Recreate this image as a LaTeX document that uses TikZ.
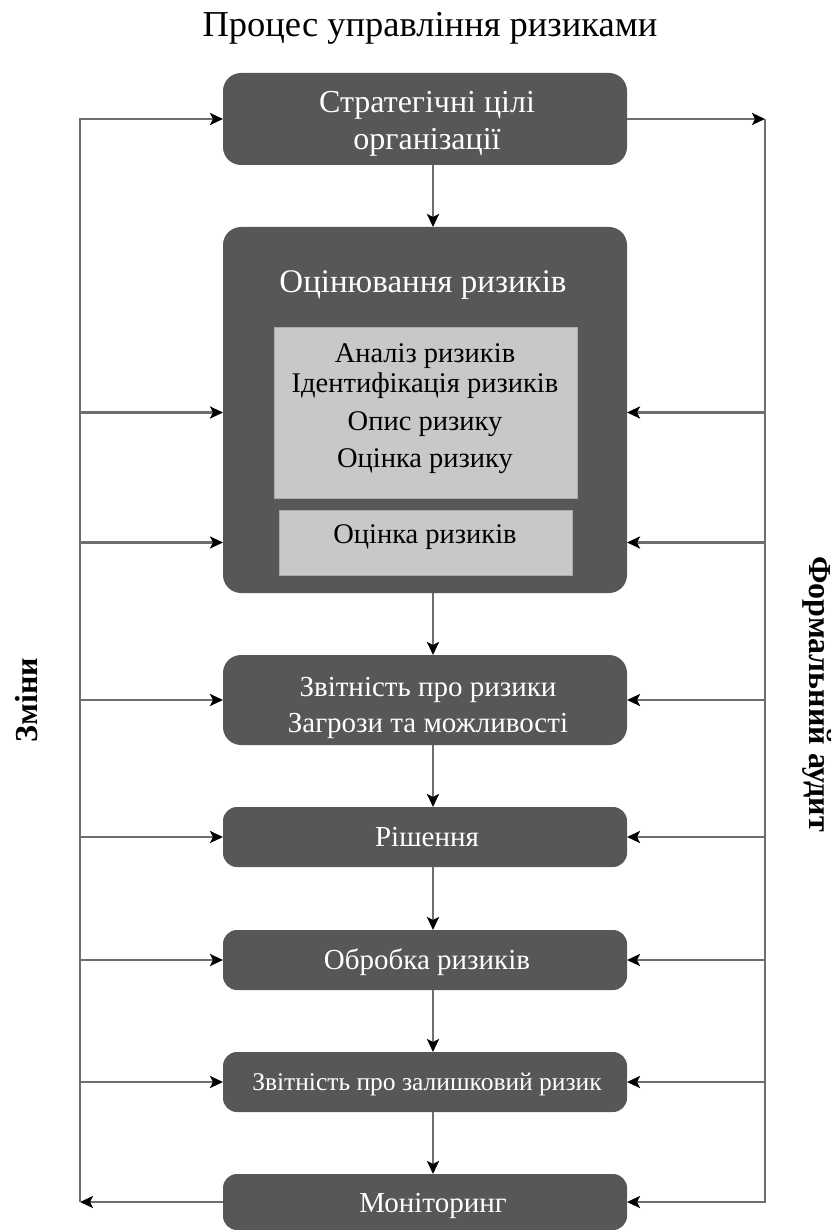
\documentclass[tikz,border=0pt]{standalone}
\usepackage{fontspec}
\setmainfont{Liberation Serif}
\usetikzlibrary{arrows.meta}
\definecolor{boxdark}{HTML}{575757}
\definecolor{boxlight}{HTML}{C8C8C8}
\definecolor{linegray}{HTML}{6E6E6E}

\begin{document}
\begin{tikzpicture}[x=1pt,y=-1pt,
  darkbox/.style={fill=boxdark, rounded corners=18pt, minimum width=404pt, inner sep=0pt, outer sep=0pt},
  smallbox/.style={darkbox, rounded corners=14pt, minimum height=60pt},
  lightbox/.style={fill=boxlight, draw=boxlight!85!black, line width=0.6pt, inner sep=0pt, outer sep=0pt},
  link/.style={draw=linegray, line width=2.8pt},
  arr/.style={link, -{Stealth[length=13pt,width=12pt,inset=3pt,black]}},
  wtxt/.style={text=white, anchor=base, inner sep=0pt, font=\fontsize{29}{33}\selectfont},
  btxt/.style={text=black, anchor=base, inner sep=0pt, font=\fontsize{28.5}{33}\selectfont},
  side/.style={anchor=base, inner sep=0pt, font=\fontsize{32}{37}\selectfont\bfseries}]

\useasboundingbox (0,0) rectangle (839,1230);

% title
\node[anchor=base, inner sep=0pt, font=\fontsize{36.5}{40}\selectfont] (title) at (430,37) {Процес управління ризиками};

% main boxes
\node[darkbox, minimum height=92pt]  (b1) at (425,119) {};
\node[darkbox, minimum height=366pt] (b2) at (425,410) {};
\node[darkbox, minimum height=90pt]  (b3) at (425,700) {};
\node[smallbox] (b4) at (425,837) {};
\node[smallbox] (b5) at (425,960) {};
\node[smallbox] (b6) at (425,1082) {};
\node[smallbox, minimum height=56pt] (b7) at (425,1202) {};

% inner panels of the assessment box
\node[lightbox, minimum width=303pt, minimum height=171pt] (ia) at (425.5,412.5) {};
\node[lightbox, minimum width=293pt, minimum height=65pt]  (ib) at (425.5,542.5) {};

% box texts
\node[wtxt, font=\fontsize{32}{35}\selectfont] (t1a) at (427,113) {Стратегічні цілі};
\node[wtxt, font=\fontsize{32}{35}\selectfont] (t1b) at (427,150) {організації};
\node[wtxt, font=\fontsize{33}{36}\selectfont] (t2) at (423,292) {Оцінювання ризиків};
\node[btxt] (ta1) at (425,362) {Аналіз ризиків};
\node[btxt] (ta2) at (425,392) {Ідентифікація ризиків};
\node[btxt] (ta3) at (425,430) {Опис ризику};
\node[btxt] (ta4) at (425,467) {Оцінка ризику};
\node[btxt] (tb) at (425,543) {Оцінка ризиків};
\node[wtxt] (t3a) at (428,696) {Звітність про ризики};
\node[wtxt] (t3b) at (428,732) {Загрози та можливості};
\node[wtxt] (t4) at (427,846) {Рішення};
\node[wtxt] (t5) at (427,969) {Обробка ризиків};
\node[wtxt, font=\fontsize{25.5}{30}\selectfont] (t6) at (427,1090) {Звітність про залишковий ризик};
\node[wtxt] (t7) at (433,1212) {Моніторинг};

% side labels
\node[side, rotate=90]  (lchg) at (37,700) {Зміни};
\node[side, rotate=-90] (laud) at (809,694) {Формальний аудит};

% rails
\coordinate (lx) at (80,0);
\coordinate (rx) at (765,0);
\coordinate (ax) at (433,0);

% left rail: monitoring feeds changes back up
\draw[arr] (b7.west) -- (lx |- b7.west);
\draw[arr] (lx |- b7.west) -- (lx |- b1.west) -- (b1.west);
\draw[arr] (lx |- ia) -- (ia -| b2.west);
\draw[arr] (lx |- ib) -- (ib -| b2.west);
\foreach \b in {b3,b4,b5,b6}
  \draw[arr] (lx |- \b.west) -- (\b.west);

% right rail: formal audit from the strategic goals
\draw[arr] (b1.east) -- (rx |- b1.east);
\draw[arr] (rx |- b1.east) -- (rx |- b7.east) -- (b7.east);
\draw[arr] (rx |- ia) -- (ia -| b2.east);
\draw[arr] (rx |- ib) -- (ib -| b2.east);
\foreach \b in {b3,b4,b5,b6}
  \draw[arr] (rx |- \b.east) -- (\b.east);

% main flow
\draw[arr] (b1.south -| ax) -- (b2.north -| ax);
\draw[arr] (b2.south -| ax) -- (b3.north -| ax);
\draw[arr] (b3.south -| ax) -- (b4.north -| ax);
\draw[arr] (b4.south -| ax) -- (b5.north -| ax);
\draw[arr] (b5.south -| ax) -- (b6.north -| ax);
\draw[arr] (b6.south -| ax) -- (b7.north -| ax);
\end{tikzpicture}
\end{document}
